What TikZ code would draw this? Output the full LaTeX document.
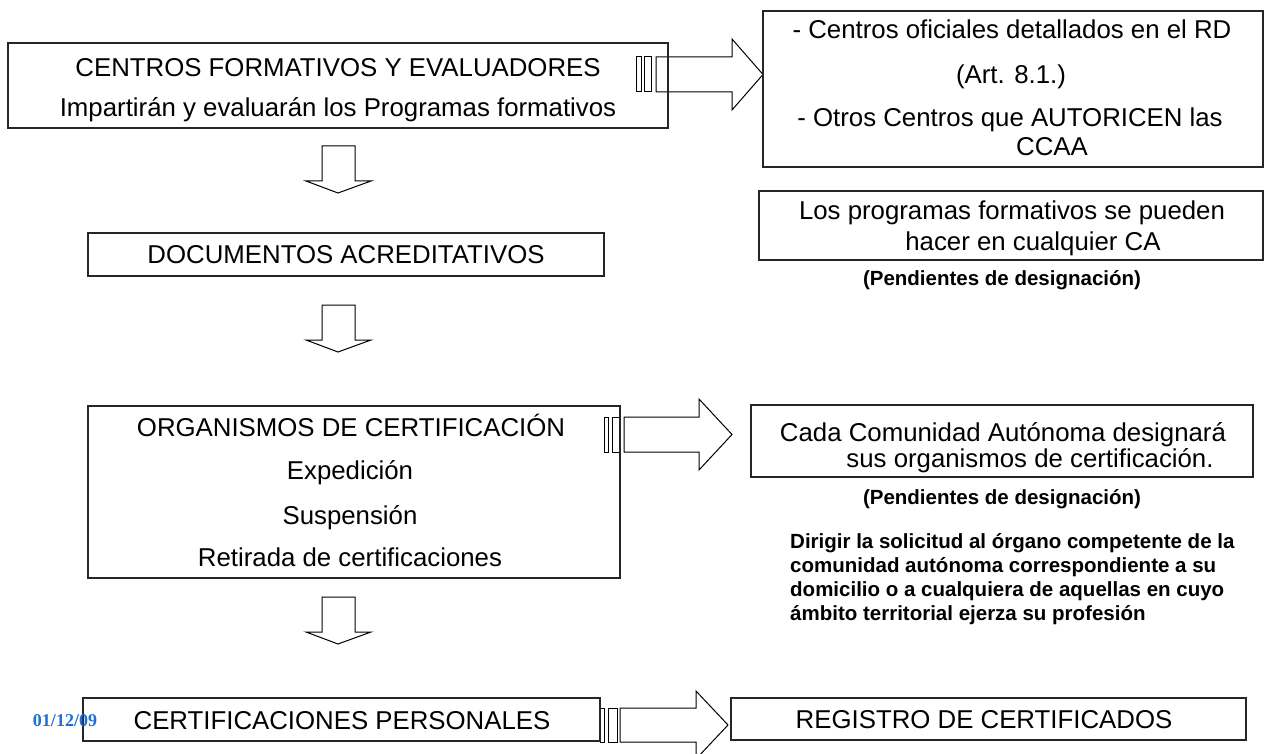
\documentclass[tikz,border=0pt]{standalone}
\usepackage{fontspec}
\setmainfont{Liberation Sans}
\newfontfamily\datefont{Liberation Serif}
\definecolor{dateblue}{RGB}{30,110,215}
\tikzset{
  box/.style={draw=black!85, line width=1.2pt, inner sep=0pt},
  blockarrow/.style={draw=black, line width=1pt, line join=miter},
  big/.style={font=\fontsize{25.8}{30}\selectfont, anchor=base, inner sep=0pt},
  note/.style={font=\fontsize{20.5}{24}\selectfont\bfseries, anchor=base, inner sep=0pt},
  para/.style={font=\fontsize{20.5}{24}\selectfont\bfseries, anchor=base west, inner sep=0pt},
}
\begin{document}
\begin{tikzpicture}[x=1pt,y=-1pt]
\useasboundingbox (0,0) rectangle (1264,754);

% ---------- block arrows (drawn first, boxes on top) ----------
% striped arrow 1
\draw[blockarrow] (636,57) rectangle (641,92);
\draw[blockarrow] (644,57) rectangle (651,92);
\draw[blockarrow] (656,57) -- (732,57) -- (732,39) -- (763,74.5) -- (732,110) -- (732,92) -- (656,92) -- cycle;
% striped arrow 2
\draw[blockarrow] (604,417) rectangle (608,452);
\draw[blockarrow] (612,417) rectangle (620,452);
\draw[blockarrow] (624,417) -- (699,417) -- (699,399) -- (732,434.5) -- (699,470) -- (699,452) -- (624,452) -- cycle;
% striped arrow 3
\draw[blockarrow] (600,708) rectangle (604,742);
\draw[blockarrow] (608,708) rectangle (617,742);
\draw[blockarrow] (620,708) -- (696,708) -- (696,691) -- (728,725) -- (696,759) -- (696,742) -- (620,742) -- cycle;
% down arrows
\foreach \dy in {0,159,451}{
  \draw[blockarrow, yshift=-\dy pt] (322,146) -- (355,146) -- (355,181) -- (371,181) -- (338,193) -- (306,181) -- (322,181) -- cycle;
}

% ---------- boxes ----------
\node[box, minimum width=660pt, minimum height=85pt] (b1) at (338,85.5) {};
\node[box, minimum width=500pt, minimum height=156pt] (b2) at (1013,89) {};
\node[box, minimum width=504pt, minimum height=69pt] (b3) at (1011,225.5) {};
\node[box, minimum width=516pt, minimum height=43pt] (b4) at (346,254.5) {};
\node[box, minimum width=532pt, minimum height=172pt] (b5) at (354,492) {};
\node[box, minimum width=502pt, minimum height=72pt] (b6) at (1002,441) {};
\node[box, minimum width=517pt, minimum height=43pt] (b7) at (341.5,719.5) {};
\node[box, minimum width=515pt, minimum height=42pt] (b8) at (988.5,719) {};

% ---------- texts ----------
\node[big] (t1a) at (338,77) {CENTROS FORMATIVOS Y EVALUADORES};
\node[big] (t1b) at (338,117) {Impartirán y evaluarán los Programas formativos};

\node[big] (t2a) at (1012,39) {- Centros oficiales detallados en el RD};
\node[big] (t2b) at (1011,84) {(Art. 8.1.)};
\node[big] (t2c) at (1010,127) {- Otros Centros que AUTORICEN las};
\node[big] (t2d) at (1052,156) {CCAA};

\node[big] (t3a) at (1012,220) {Los programas formativos se pueden};
\node[big] (t3b) at (1033,251) {hacer en cualquier CA};
\node[note] (p1) at (1002,285.5) {(Pendientes de designación)};

\node[big] (t4) at (346,264) {DOCUMENTOS ACREDITATIVOS};

\node[big] (t5a) at (351,436) {ORGANISMOS DE CERTIFICACIÓN};
\node[big] (t5b) at (350,479) {Expedición};
\node[big] (t5c) at (350,524) {Suspensión};
\node[big] (t5d) at (350,566) {Retirada de certificaciones};

\node[big] (t6a) at (1003,441) {Cada Comunidad Autónoma designará};
\node[big] (t6b) at (1030,467) {sus organismos de certificación.};
\node[note] (p2) at (1002,504.5) {(Pendientes de designación)};

\node[para] (q1) at (790,548) {Dirigir la solicitud al órgano competente de la};
\node[para] (q2) at (790,572) {comunidad autónoma correspondiente a su};
\node[para] (q3) at (790,596) {domicilio o a cualquiera de aquellas en cuyo};
\node[para] (q4) at (790,620) {ámbito territorial ejerza su profesión};

\node[big] (t7) at (342,729) {CERTIFICACIONES PERSONALES};
\node[big] (t8) at (984,728) {REGISTRO DE CERTIFICADOS};

\node[font=\fontsize{18}{20}\selectfont\datefont\bfseries, text=dateblue, anchor=base, inner sep=0pt] (date) at (65,726.5) {01/12/09};
\end{tikzpicture}
\end{document}
